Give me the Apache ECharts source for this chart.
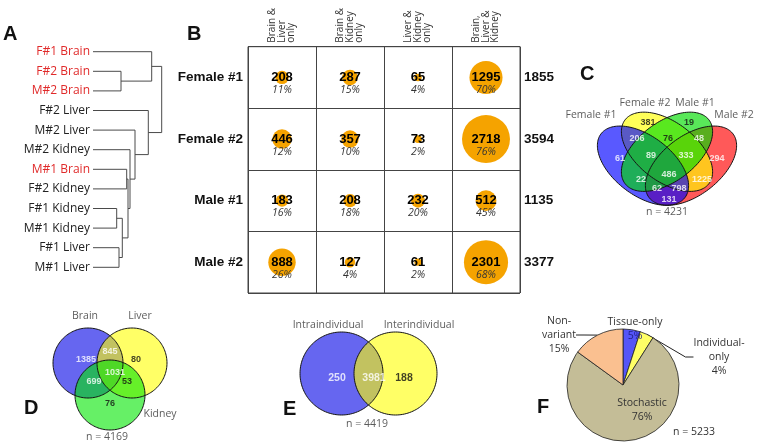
<!DOCTYPE html>
<html><head><meta charset="utf-8">
<script src="https://cdn.jsdelivr.net/npm/echarts@6/dist/echarts.min.js"></script>
<style>html,body{margin:0;padding:0;background:#fff}#c{width:757px;height:445px}</style>
</head><body><div id="c"></div>
<script>
// ================= DATA =================
// A: dendrogram (leaf order, merges: [childA, childB, height]; nodes 12+ are merges)
const dendroLeaves = ['F#1 Brain','F#2 Brain','M#2 Brain','F#2 Liver','M#2 Liver','M#2 Kidney','M#1 Brain','F#2 Kidney','F#1 Kidney','M#1 Kidney','F#1 Liver','M#1 Liver'];
const dendroMerges = [[1,2,28],[0,12,58.7],[8,9,23.7],[10,11,26],[14,15,29.3],[6,7,33.7],[17,16,35],[5,18,37],[4,19,42],[3,20,55.3],[13,21,68.7]];

// B: bubble table
const bCols = ['Brain &\nLiver\nonly','Brain &\nKidney\nonly','Liver &\nKidney\nonly','Brain,\nLiver &\nKidney'];
const bRows = ['Female #1','Female #2','Male #1','Male #2'];
const bCounts = [[208,287,65,1295],[446,357,73,2718],[183,208,232,512],[888,127,61,2301]];
const bPcts = [[11,15,4,70],[12,10,2,76],[16,18,20,45],[26,4,2,68]];
const bTotals = [1855,3594,1135,3377];

// C: 4-set Venn
const cSets = ['Female #1','Female #2','Male #1','Male #2'];
const cRegions = ['F1','F2','M1','M2','F1F2','F2M1','M1M2','F1F2M1','F2M1M2','F1M1','ALL','F2M2','F1M1M2','F1F2M2','F1M2'];
const cCounts = [61,381,19,294,206,76,48,89,333,22,486,1225,62,798,131];
const cTotal = 4231;

// D: 3-set Venn
const dSets = ['Brain','Liver','Kidney'];
const dRegions = ['B','BL','L','BLK','BK','LK','K'];
const dCounts = [1385,845,80,1031,699,53,76];
const dTotal = 4169;

// E: 2-set Venn
const eSets = ['Intraindividual','Interindividual'];
const eCounts = [250,3981,188];
const eTotal = 4419;

// F: pie
const fCategories = ['Tissue-only','Individual-only','Stochastic','Non-variant'];
const fValues = [5,4,76,15];
const fTotal = 5233;

// ================= LAYOUT / STYLE =================
const SANS = '"Open Sans", "Noto Sans", sans-serif';
const ARIAL = '"Liberation Sans", Arial, sans-serif';

// ellipse geometry: [cx, cy, rx, ry, angleDeg]
const cShapes = [[0.35,0.47,0.35,0.20,-45],[0.5,0.57,0.35,0.20,-45],[0.5,0.57,0.35,0.20,45],[0.65,0.47,0.35,0.20,45]];
const cColors = ['#0000ff','#ffff00','#00dc00','#ff0000'];
const cOrder = [3,1,0,2];
const cLabelPos = [[0.206,0.518],[0.381,0.777],[0.638,0.777],[0.813,0.518],[0.313,0.662],[0.506,0.662],[0.700,0.662],[0.400,0.540],[0.619,0.540],[0.338,0.367],[0.513,0.403],[0.719,0.367],[0.438,0.309],[0.575,0.309],[0.513,0.230]];
const cLabelColor = cRegions.map(r => (r==='F2'||r==='M1'||r==='F2M1') ? '#111' : '#fff');
const cSetPos = [[0.025,0.835],[0.363,0.921],[0.675,0.921],[0.919,0.835]];

const dShapes = [[48,53,35,35,0],[92,53,35,35,0],[70,85,35,35,0]];
const dColors = ['#0000e6','#ffff00','#00e600'];
const dLabelPos = [[46,50],[70,42],[96,50],[75,63],[54,72],[87,72],[70,94]];
const dLabelColor = ['#fff','#fff','#111','#fff','#fff','#111','#111'];
const dSetPos = [[45,6],[100,6],[120,104]];

const eShapes = [[51.5,53.5,41.5,41.5,0],[105.5,53.5,41.5,41.5,0]];
const eColors = ['#0000e6','#ffff00'];
const eLabelPos = [[47,58],[84,58],[114,58]];
const eLabelColor = ['#fff','#fff','#111'];
const eSetPos = [[38,5],[129,5]];

const fColors = ['#5555f8','#ffff66','#c4bd97','#fac090'];
const fLabelText = ['Tissue-only\n{b|5%}','Individual-\nonly\n4%','Stochastic\n76%','Non-\nvariant\n15%'];
const fLabelPos = [[635,329],[719,357],[642,410],[559,335]];

// ================= BUILD =================
const nodes = dendroLeaves.map((_, i) => ({x: 0, y: i}));
const dendroLines = [];
dendroMerges.forEach(m => {
  const a = nodes[m[0]], b = nodes[m[1]];
  nodes.push({x: m[2], y: (a.y + b.y) / 2});
  dendroLines.push({coords: [[a.x, a.y], [m[2], a.y], [m[2], b.y], [b.x, b.y]]});
});

const bData = [];
bRows.forEach((r, ri) => bCols.forEach((c, ci) => bData.push([ci, ri, bCounts[ri][ci], bPcts[ri][ci]])));

function shapeSeries(xi, yi, shapes, order, colors, alpha, mode) {
  return {
    type: 'custom', xAxisIndex: xi, yAxisIndex: yi, silent: true, z: mode === 'fill' ? 2 : 3,
    data: order.map(i => [shapes[i][0], shapes[i][1], i]),
    renderItem: function (params, api) {
      const s = shapes[api.value(2)];
      const th = s[4] * Math.PI / 180, pts = [];
      for (let k = 0; k < 144; k++) {
        const t = 2 * Math.PI * k / 144;
        const ex = s[2] * Math.cos(t), ey = s[3] * Math.sin(t);
        pts.push(api.coord([s[0] + ex * Math.cos(th) - ey * Math.sin(th), s[1] + ex * Math.sin(th) + ey * Math.cos(th)]));
      }
      return {type: 'polygon', shape: {points: pts},
        style: mode === 'fill' ? {fill: colors[api.value(2)], opacity: alpha, stroke: null}
                               : {fill: 'none', stroke: '#141414', lineWidth: 1}};
    }
  };
}
function textSeries(xi, yi, pos, texts, colors, font) {
  return {
    type: 'scatter', xAxisIndex: xi, yAxisIndex: yi, symbolSize: 1, silent: true, clip: false, z: 6,
    itemStyle: {color: 'rgba(0,0,0,0)'},
    data: pos.map((p, k) => ({name: String(texts[k]), value: [p[0], p[1]], label: {color: colors[k]}})),
    label: Object.assign({show: true, position: 'inside', formatter: '{b}'}, font)
  };
}
const cntFont = {fontFamily: ARIAL, fontWeight: 'bold', fontSize: 9};
const nameFont = {fontFamily: SANS, fontSize: 10.5, color: '#333'};

const hidden = {show: false};
const option = {
  animation: false,
  backgroundColor: '#fff',
  grid: [
    {left: 93, top: 41.9, width: 72, height: 235.2, outerBoundsMode: 'none'},
    {left: 248, top: 46.7, width: 272, height: 246.3, show: true, borderColor: '#444', borderWidth: 1, backgroundColor: 'transparent', outerBoundsMode: 'none'},
    {left: 587, top: 92, width: 160, height: 139, outerBoundsMode: 'none'},
    {left: 40, top: 310, width: 150, height: 130, outerBoundsMode: 'none'},
    {left: 290, top: 320, width: 160, height: 110, outerBoundsMode: 'none'}
  ],
  xAxis: [
    {gridIndex: 0, type: 'value', min: 0, max: 72, show: false},
    {gridIndex: 1, type: 'category', data: bCols, position: 'top',
      axisLine: hidden, axisTick: hidden,
      axisLabel: {rotate: -90, margin: 4, interval: 0, fontFamily: SANS, fontSize: 10, lineHeight: 9.5, color: '#333'},
      splitLine: {show: true, interval: 0, lineStyle: {color: '#444', width: 1}}},
    {gridIndex: 2, type: 'value', min: 0, max: 1, show: false},
    {gridIndex: 3, type: 'value', min: 0, max: 150, show: false},
    {gridIndex: 4, type: 'value', min: 0, max: 160, show: false}
  ],
  yAxis: [
    {gridIndex: 0, type: 'category', data: dendroLeaves, inverse: true,
      axisLine: hidden, axisTick: hidden, splitLine: hidden,
      axisLabel: {margin: 3, interval: 0,
        formatter: v => /Brain/.test(v) ? '{r|' + v + '}' : '{k|' + v + '}',
        rich: {r: {color: '#e02a2a', fontFamily: SANS, fontSize: 12}, k: {color: '#222', fontFamily: SANS, fontSize: 12}}}},
    {gridIndex: 0, type: 'value', min: -0.5, max: 11.5, inverse: true, show: false, position: 'right'},
    {gridIndex: 1, type: 'category', data: bRows, inverse: true,
      axisLine: hidden, axisTick: hidden,
      axisLabel: {margin: 5, interval: 0, fontFamily: ARIAL, fontWeight: 'bold', fontSize: 13.5, color: '#111', padding: [0, 0, 10, 0]},
      splitLine: {show: true, interval: 0, lineStyle: {color: '#444', width: 1}}},
    {gridIndex: 1, type: 'category', data: bTotals, inverse: true, position: 'right',
      axisLine: hidden, axisTick: hidden, splitLine: hidden,
      axisLabel: {margin: 4, interval: 0, fontFamily: ARIAL, fontWeight: 'bold', fontSize: 13.5, color: '#111', padding: [0, 0, 10, 0]}},
    {gridIndex: 2, type: 'value', min: 0, max: 1, show: false},
    {gridIndex: 3, type: 'value', min: 0, max: 130, inverse: true, show: false},
    {gridIndex: 4, type: 'value', min: 0, max: 110, inverse: true, show: false}
  ],
  series: [
    {type: 'lines', coordinateSystem: 'cartesian2d', xAxisIndex: 0, yAxisIndex: 1, polyline: true, silent: true,
      data: dendroLines, lineStyle: {color: '#4a4a4a', width: 1, opacity: 1}},
    {type: 'scatter', xAxisIndex: 1, yAxisIndex: 2, data: bData, silent: true,
      symbolSize: v => 0.92 * Math.sqrt(v[2]),
      itemStyle: {color: '#f5a300', opacity: 1},
      label: {show: true, position: 'inside', offset: [0, 6],
        formatter: p => '{v|' + p.value[2] + '}\n{p|' + p.value[3] + '%}',
        rich: {v: {fontFamily: ARIAL, fontWeight: 'bold', fontSize: 13, color: '#000', lineHeight: 13},
               p: {fontFamily: SANS, fontStyle: 'italic', fontSize: 10.5, color: '#333', lineHeight: 12}}}},
    shapeSeries(2, 4, cShapes, cOrder, cColors, 0.65, 'fill'),
    shapeSeries(2, 4, cShapes, [0,1,2,3], cColors, 1, 'stroke'),
    textSeries(2, 4, cLabelPos, cCounts, cLabelColor, cntFont),
    textSeries(2, 4, cSetPos.concat([[0.5,0.137]]), cSets.concat(['n = ' + cTotal]), ['#333','#333','#333','#333','#333'], nameFont),
    shapeSeries(3, 5, dShapes, [0,1,2], dColors, 0.6, 'fill'),
    shapeSeries(3, 5, dShapes, [0,1,2], dColors, 1, 'stroke'),
    textSeries(3, 5, dLabelPos, dCounts, dLabelColor, cntFont),
    textSeries(3, 5, dSetPos.concat([[67,127]]), dSets.concat(['n = ' + dTotal]), ['#333','#333','#333','#333'], nameFont),
    shapeSeries(4, 6, eShapes, [0,1], eColors, 0.6, 'fill'),
    shapeSeries(4, 6, eShapes, [0,1], eColors, 1, 'stroke'),
    textSeries(4, 6, eLabelPos, eCounts, eLabelColor, {fontFamily: ARIAL, fontWeight: 'bold', fontSize: 10.5}),
    textSeries(4, 6, eSetPos.concat([[77,104]]), eSets.concat(['n = ' + eTotal]), ['#333','#333','#333'], nameFont),
    {type: 'pie', center: [623, 385], radius: 56, startAngle: 90, clockwise: true, silent: true,
      avoidLabelOverlap: false, color: fColors,
      itemStyle: {borderColor: '#222', borderWidth: 0.8},
      data: fCategories.map((n, i) => ({name: n, value: fValues[i], labelLine: {show: i === 1 || i === 3}})),
      label: {show: true, formatter: p => fLabelText[p.dataIndex], fontFamily: SANS, fontSize: 10.5, color: '#333', lineHeight: 14, align: 'center',
        rich: {b: {color: '#22228a', fontFamily: SANS, fontSize: 10.5, lineHeight: 14}}},
      labelLine: {show: false, length: 8, length2: 8, lineStyle: {color: '#222', width: 1}},
      labelLayout: p => ({x: fLabelPos[p.dataIndex][0], y: fLabelPos[p.dataIndex][1], align: 'center', verticalAlign: 'middle'})}
  ],
  graphic: [
    {type: 'text', x: 3, y: 34, style: {text: 'A', font: 'bold 20px "Liberation Sans"', fill: '#111', verticalAlign: 'middle'}},
    {type: 'text', x: 187, y: 34, style: {text: 'B', font: 'bold 20px "Liberation Sans"', fill: '#111', verticalAlign: 'middle'}},
    {type: 'text', x: 580, y: 74, style: {text: 'C', font: 'bold 20px "Liberation Sans"', fill: '#111', verticalAlign: 'middle'}},
    {type: 'text', x: 24, y: 408, style: {text: 'D', font: 'bold 20px "Liberation Sans"', fill: '#111', verticalAlign: 'middle'}},
    {type: 'text', x: 283, y: 409, style: {text: 'E', font: 'bold 20px "Liberation Sans"', fill: '#111', verticalAlign: 'middle'}},
    {type: 'text', x: 537, y: 407, style: {text: 'F', font: 'bold 20px "Liberation Sans"', fill: '#111', verticalAlign: 'middle'}},
    {type: 'text', x: 694, y: 432, style: {text: 'n = ' + fTotal, font: '10.5px "Open Sans"', fill: '#333', align: 'center', verticalAlign: 'middle'}}
  ]
};
const chart = echarts.init(document.getElementById('c'));
chart.setOption(option);
</script></body></html>
